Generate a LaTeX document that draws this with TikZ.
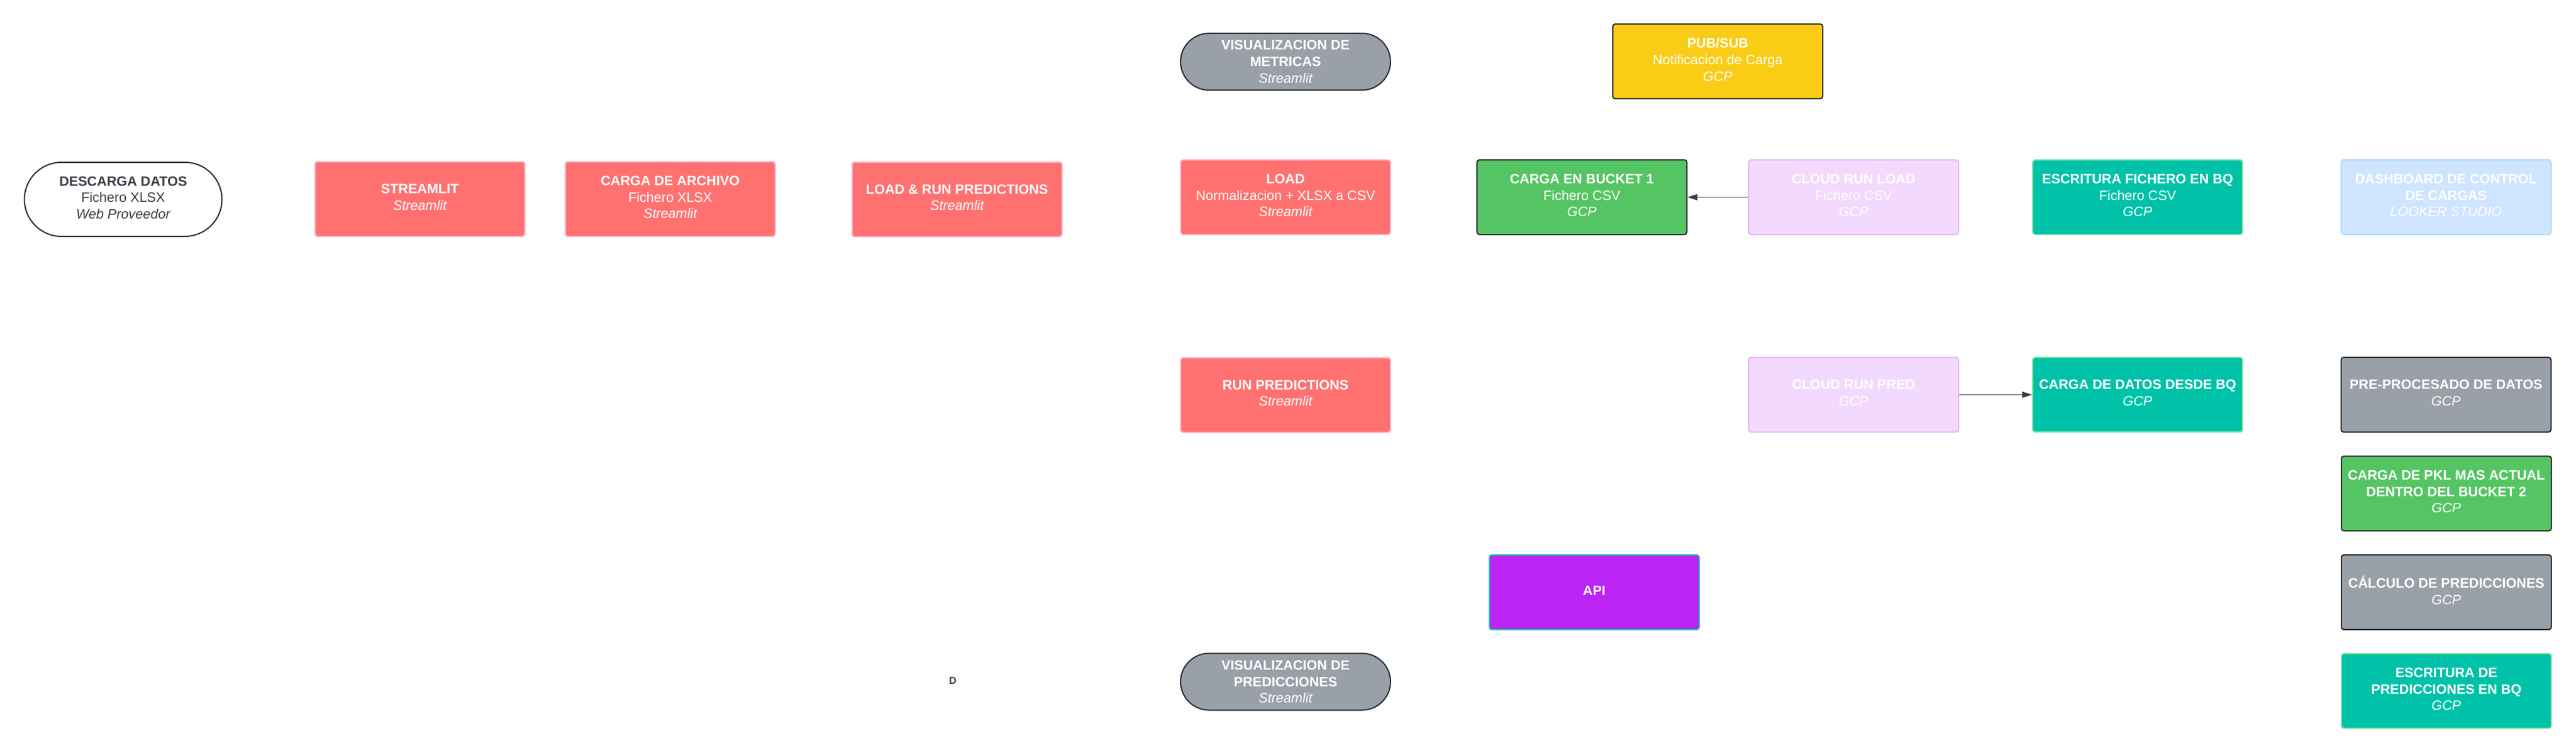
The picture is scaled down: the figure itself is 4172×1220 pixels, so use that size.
\documentclass[tikz,border=0pt]{standalone}
\usepackage{fontspec}
\setmainfont{Liberation Sans}
\usetikzlibrary{arrows.meta}
\definecolor{cRed}{HTML}{FF7171}
\definecolor{cRedB}{HTML}{FFB5D0}
\definecolor{cGray}{HTML}{9AA0A8}
\definecolor{cDark}{HTML}{282C34}
\definecolor{cTxtDark}{HTML}{3A3F47}
\definecolor{cYellow}{HTML}{FACC15}
\definecolor{cGreen}{HTML}{55C463}
\definecolor{cLav}{HTML}{F2D9FD}
\definecolor{cLavB}{HTML}{E9B5F9}
\definecolor{cTeal}{HTML}{00C2A8}
\definecolor{cTealB}{HTML}{86E49D}
\definecolor{cBlue}{HTML}{CFE4FF}
\definecolor{cBlueB}{HTML}{B3D4FF}
\definecolor{cPurple}{HTML}{BC24F5}
\definecolor{cPurpleB}{HTML}{14C7A8}
\tikzset{
  base/.style={rectangle, rounded corners=2pt, minimum width=170pt, minimum height=60.5pt,
    align=center, text=white, inner sep=0pt, line width=1pt,
    font=\fontsize{11}{13.3}\selectfont},
  box/.style={base, execute at end node={\rule[-3pt]{0pt}{0pt}}},
  redbox/.style={box, fill=cRed, draw=cRedB},
  graybox/.style={box, fill=cGray, draw=cDark},
  yellowbox/.style={box, fill=cYellow, draw=cDark},
  greenbox/.style={box, fill=cGreen, draw=cDark},
  lavbox/.style={box, fill=cLav, draw=cLavB},
  tealbox/.style={box, fill=cTeal, draw=cTealB},
  bluebox/.style={box, fill=cBlue, draw=cBlueB},
  apibox/.style={box, fill=cPurple, draw=cPurpleB},
  stadium/.style={base, minimum height=46pt, rounded corners=23pt, fill=cGray, draw=cDark},
  startnode/.style={box, minimum width=160pt, minimum height=60pt, rounded corners=30pt,
    fill=white, draw=cDark, text=cTxtDark},
  conn/.style={draw=cTxtDark, line width=0.75pt, -{Triangle[length=8pt, width=5pt]}},
  plain/.style={text=cTxtDark, inner sep=0pt, font=\fontsize{8.3}{10}\selectfont\bfseries}
}
\begin{document}
\begin{tikzpicture}[x=0.5pt, y=-0.5pt]
\useasboundingbox (0,0) rectangle (4172,1220);
\fill[white] (0,0) rectangle (4172,1220);

\node[startnode] (descarga) at (199.5,323) {\bfseries DESCARGA DATOS\\Fichero XLSX\\\itshape Web Proveedor};
\node[redbox] (streamlit) at (680,322.5) {\bfseries STREAMLIT\\\itshape Streamlit};
\node[redbox] (archivo) at (1085.5,322.5) {\bfseries CARGA DE ARCHIVO\\Fichero XLSX\\\itshape Streamlit};
\node[redbox] (loadrun) at (1550,323) {\bfseries LOAD \& RUN PREDICTIONS\\\itshape Streamlit};
\node[redbox] (load) at (2082,319.5) {\bfseries LOAD\\Normalizacion + XLSX a CSV\\\itshape Streamlit};
\node[greenbox] (bucket1) at (2562,319.5) {\bfseries CARGA EN BUCKET 1\\Fichero CSV\\\itshape GCP};
\node[lavbox] (cloudload) at (3002,319.5) {\bfseries CLOUD RUN LOAD\\Fichero CSV\\\itshape GCP};
\node[tealbox] (escritura) at (3462,319.5) {\bfseries ESCRITURA FICHERO EN BQ\\Fichero CSV\\\itshape GCP};
\node[bluebox] (dashboard) at (3961.5,319.5) {\bfseries DASHBOARD DE CONTROL\\\bfseries DE CARGAS\\\itshape LOOKER STUDIO};

\node[stadium] (metricas) at (2082,100) {\bfseries VISUALIZACION DE\\\bfseries METRICAS\\\itshape Streamlit};
\node[yellowbox] (pubsub) at (2782,99.5) {\bfseries PUB/SUB\\Notificacion de Carga\\\itshape GCP};

\node[redbox] (runpred) at (2082,640) {\bfseries RUN PREDICTIONS\\\itshape Streamlit};
\node[lavbox] (cloudpred) at (3002,639.5) {\bfseries CLOUD RUN PRED\\\itshape GCP};
\node[tealbox] (cargabq) at (3462,639.5) {\bfseries CARGA DE DATOS DESDE BQ\\\itshape GCP};
\node[graybox] (preproc) at (3961.5,639.5) {\bfseries PRE-PROCESADO DE DATOS\\\itshape GCP};
\node[greenbox] (pkl) at (3962,799.5) {\bfseries CARGA DE PKL MAS ACTUAL\\\bfseries DENTRO DEL BUCKET 2\\\itshape GCP};
\node[graybox] (calculo) at (3962,959.5) {\bfseries CÁLCULO DE PREDICCIONES\\\itshape GCP};
\node[tealbox] (escpred) at (3962,1119.5) {\bfseries ESCRITURA DE\\\bfseries PREDICCIONES EN BQ\\\itshape GCP};

\node[apibox] (api) at (2582,959.5) {\bfseries API};
\node[stadium] (vispred) at (2082,1104.5) {\bfseries VISUALIZACION DE\\\bfseries PREDICCIONES\\\itshape Streamlit};
\node[plain] (dlabel) at (1543,1103) {D};

\draw[conn] (cloudload.west) -- (bucket1.east);
\draw[conn] (cloudpred.east) -- (cargabq.west);
\end{tikzpicture}
\end{document}
